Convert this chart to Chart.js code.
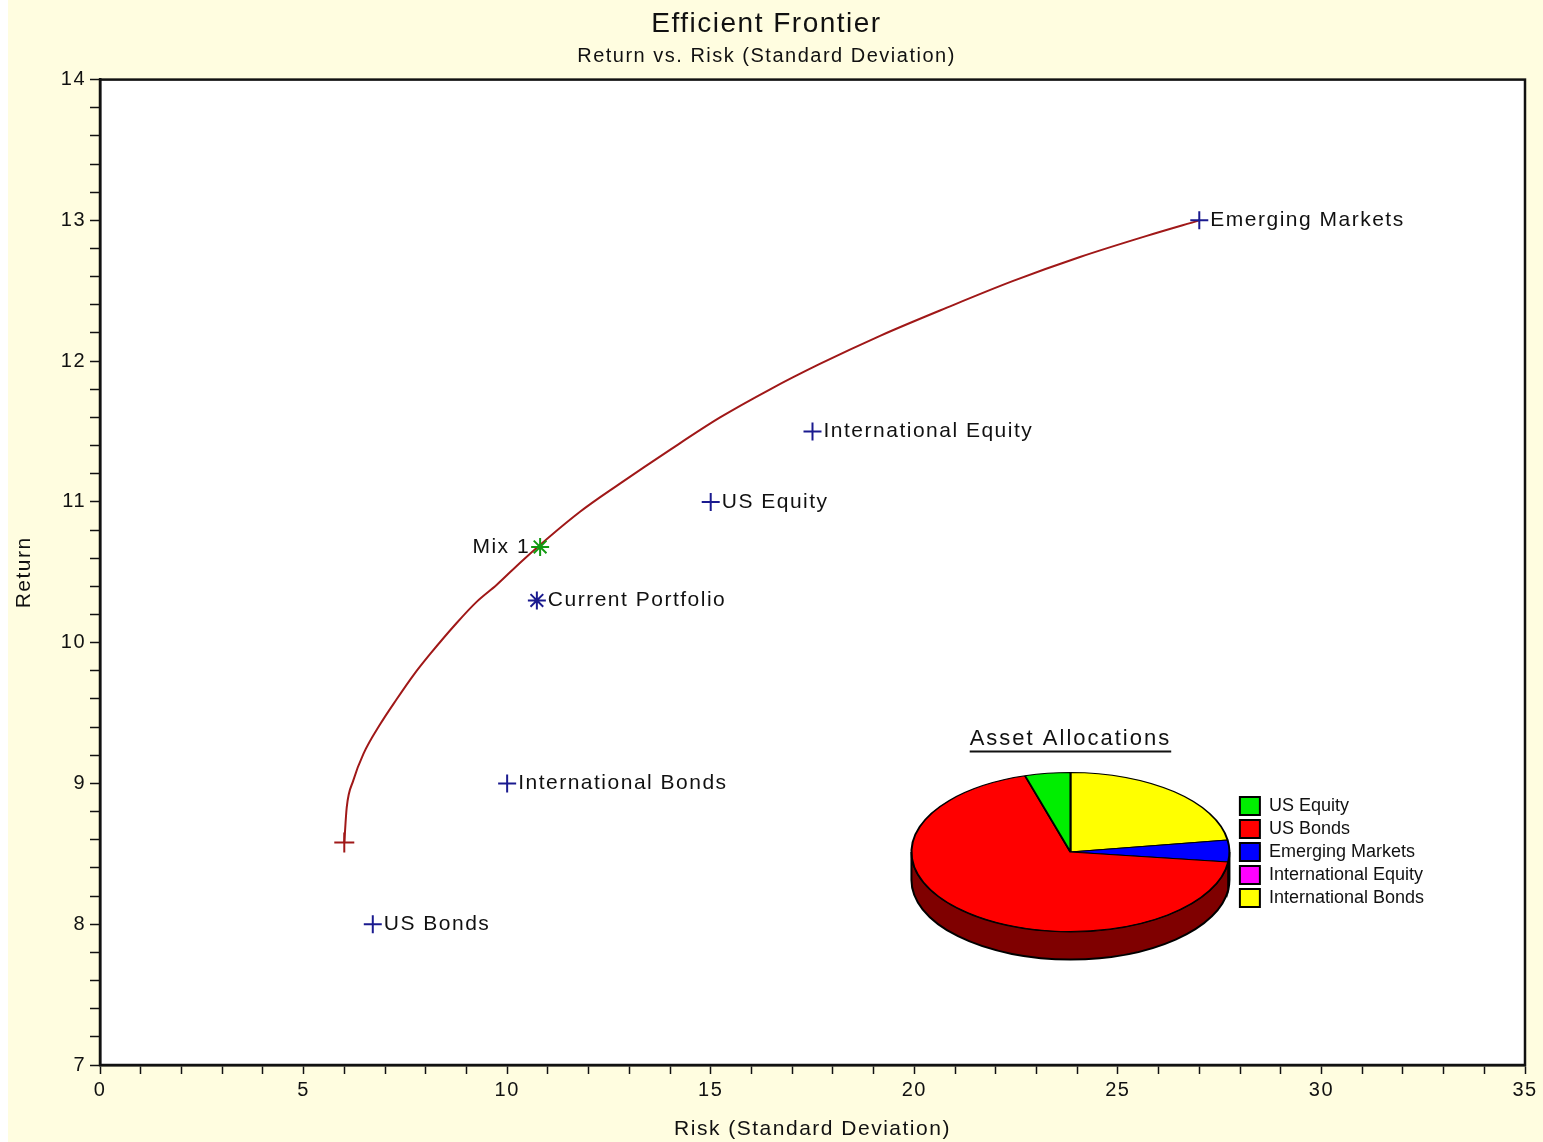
<!DOCTYPE html>
<html>
<head>
<meta charset="utf-8">
<title>Efficient Frontier</title>
<script src="https://cdn.jsdelivr.net/npm/chart.js@4.4.1/dist/chart.umd.min.js"></script>
<style>
  body { margin: 0; background: #fff; }
  #wrap { position: relative; width: 1543px; height: 1142px; }
  #frontier { position: absolute; left: 8px; top: 0; background: #fffde0; }
  #alloc { position: absolute; left: 882px; top: 682px; }
</style>
</head>
<body>
<div id="wrap">
  <canvas id="frontier" width="1535" height="1142"></canvas>
  <canvas id="alloc" width="552" height="340"></canvas>
</div>
<script>
// values
const assetNames = ["US Bonds", "International Bonds", "US Equity", "International Equity", "Emerging Markets"];
const assetRisk = [6.7, 10.0, 15.0, 17.5, 27.0];
const assetReturn = [8.0, 9.0, 11.0, 11.5, 13.0];

const currentRisk = [10.73];
const currentReturn = [10.3];
const mixRisk = [10.81];
const mixReturn = [10.68];

const frontierRisk = [6.0, 6.06, 6.22, 6.47, 6.88, 7.29, 7.70, 8.11, 8.76, 9.25, 9.74, 10.40,
    11.79, 12.77, 14.00, 15.23, 16.46, 17.68, 19.16, 20.80, 22.43, 24.07, 25.71, 27.0];
const frontierReturn = [8.58, 8.83, 9.02, 9.21, 9.42, 9.60, 9.77, 9.92, 10.14, 10.29, 10.41, 10.59,
    10.93, 11.13, 11.37, 11.60, 11.80, 11.98, 12.18, 12.38, 12.57, 12.74, 12.89, 13.0];

const allocLabels = ["US Equity", "US Bonds", "Emerging Markets", "International Equity", "International Bonds"];
const allocPct = [4.6, 68.4, 4.4, 0, 22.6];
const allocColours = ["#00ee00", "#ff0000", "#0000ff", "#ff00ff", "#ffff00"];

const navy = "#1a1a8f";
const FONT = "'Liberation Sans', Arial, sans-serif";
Chart.defaults.font.family = FONT;
Chart.defaults.color = "#111";

const toPoints = (xs, ys) => xs.map((x, i) => ({ x: x, y: ys[i] }));
const isWhole = (v) => Math.abs(v - Math.round(v)) < 1e-6;

// white plot area, frame around it, and letter spacing like the old bitmap font
const plotFrame = {
    id: "plotFrame",
    beforeUpdate(chart) {
        chart.ctx.letterSpacing = "1.5px";
    },
    beforeDraw(chart) {
        const { ctx, chartArea: a } = chart;
        ctx.save();
        ctx.fillStyle = "#fff";
        ctx.fillRect(a.left, a.top, a.right - a.left, a.bottom - a.top);
        ctx.restore();
    },
    afterDatasetsDraw(chart) {
        const { ctx, chartArea: a } = chart;
        ctx.save();
        ctx.strokeStyle = "#111";
        ctx.lineWidth = 2.5;
        ctx.strokeRect(a.left, a.top, a.right - a.left, a.bottom - a.top);
        ctx.restore();
    },
};

// text next to the markers
const pointLabels = {
    id: "pointLabels",
    afterDatasetsDraw(chart) {
        const ctx = chart.ctx;
        ctx.save();
        ctx.font = "21px " + FONT;
        ctx.fillStyle = "#111";
        ctx.textBaseline = "middle";
        chart.data.datasets.forEach((ds, di) => {
            if (!ds.pointNames) return;
            chart.getDatasetMeta(di).data.forEach((pt, i) => {
                if (ds.labelSide === "left") {
                    ctx.textAlign = "right";
                    ctx.fillText(ds.pointNames[i], pt.x - 10, pt.y);
                } else {
                    ctx.textAlign = "left";
                    ctx.fillText(ds.pointNames[i], pt.x + 11, pt.y);
                }
            });
        });
        ctx.restore();
    },
};

new Chart(document.getElementById("frontier"), {
    type: "scatter",
    data: {
        datasets: [
            {
                label: "Assets",
                data: toPoints(assetRisk, assetReturn),
                pointNames: assetNames,
                pointStyle: "cross",
                pointRadius: 9,
                borderColor: navy,
                borderWidth: 2,
            },
            {
                label: "Mix 1",
                data: toPoints(mixRisk, mixReturn),
                pointNames: ["Mix 1"],
                labelSide: "left",
                pointStyle: "star",
                pointRadius: 9,
                borderColor: "#129a12",
                borderWidth: 2,
            },
            {
                label: "Current Portfolio",
                data: toPoints(currentRisk, currentReturn),
                pointNames: ["Current Portfolio"],
                pointStyle: "star",
                pointRadius: 9,
                borderColor: navy,
                borderWidth: 2,
            },
            {
                label: "Efficient Frontier",
                data: toPoints(frontierRisk, frontierReturn),
                showLine: true,
                cubicInterpolationMode: "monotone",
                borderColor: "#a01818",
                borderWidth: 2,
                pointStyle: "cross",
                pointRadius: (c) => (c.dataIndex === 0 ? 10 : 0),
                pointBorderColor: "#a01818",
                pointBorderWidth: 2,
            },
        ],
    },
    options: {
        responsive: false,
        animation: false,
        events: [],
        layout: { padding: { left: 0, right: 18, top: 0, bottom: 0 } },
        plugins: {
            legend: { display: false },
            tooltip: { enabled: false },
            title: {
                display: true,
                text: "Efficient Frontier",
                font: { size: 28, weight: "normal" },
                padding: { top: 7, bottom: 4 },
            },
            subtitle: {
                display: true,
                text: "Return vs. Risk (Standard Deviation)",
                font: { size: 20 },
                padding: { top: 0, bottom: 11 },
            },
        },
        scales: {
            x: {
                type: "linear",
                min: 0,
                max: 35,
                afterFit: (s) => { s.height = 77; },
                ticks: {
                    stepSize: 1,
                    autoSkip: false,
                    maxRotation: 0,
                    padding: 4,
                    font: { size: 20 },
                    callback: (v) => (v % 5 === 0 ? v : ""),
                },
                grid: { drawOnChartArea: false, tickLength: 9, tickColor: "#111", tickWidth: 1.5 },
                border: { color: "#111", width: 2.5 },
                title: {
                    display: true,
                    text: "Risk (Standard Deviation)",
                    font: { size: 21 },
                    padding: { top: 2, bottom: 0 },
                },
            },
            y: {
                min: 7,
                max: 14,
                afterFit: (s) => { s.width = 92; },
                ticks: {
                    stepSize: 0.2,
                    autoSkip: false,
                    padding: 4,
                    font: { size: 20 },
                    callback: (v) => (isWhole(v) ? Math.round(v) : ""),
                },
                grid: { drawOnChartArea: false, tickLength: 10, tickColor: "#111", tickWidth: 1.5 },
                border: { color: "#111", width: 2.5 },
                title: {
                    display: true,
                    text: "Return",
                    font: { size: 21 },
                    padding: { top: 4, bottom: 0 },
                },
            },
        },
    },
    plugins: [plotFrame, pointLabels],
});

// ---- asset allocation pie, tilted with a darker rim ----
const tilt = 0.5;
const depth = 28;

function darken(hex) {
    const n = parseInt(hex.slice(1), 16);
    const r = ((n >> 16) & 255) >> 1, g = ((n >> 8) & 255) >> 1, b = (n & 255) >> 1;
    return `rgb(${r}, ${g}, ${b})`;
}

const pie3d = {
    id: "pie3d",
    beforeDatasetsDraw(chart) {
        const ctx = chart.ctx;
        const arcs = chart.getDatasetMeta(0).data;
        const cx = arcs[0].x, cy = arcs[0].y, r = arcs[0].outerRadius;
        const colours = chart.data.datasets[0].backgroundColor;
        arcs.forEach((arc, i) => {
            const s = Math.max(arc.startAngle, 0);
            const e = Math.min(arc.endAngle, Math.PI);
            if (e <= s) return;
            ctx.beginPath();
            ctx.ellipse(cx, cy, r, r * tilt, 0, s, e);
            ctx.ellipse(cx, cy + depth, r, r * tilt, 0, e, s, true);
            ctx.closePath();
            ctx.fillStyle = darken(colours[i]);
            ctx.fill();
            ctx.strokeStyle = "#000";
            ctx.lineWidth = 2;
            ctx.stroke();
        });
        ctx.save();
        ctx.translate(cx, cy);
        ctx.scale(1, tilt);
        ctx.translate(-cx, -cy);
    },
    afterDatasetsDraw(chart) {
        chart.ctx.restore();
    },
    afterDraw(chart) {
        const ctx = chart.ctx;
        const arc = chart.getDatasetMeta(0).data[0];
        const y = arc.y - arc.outerRadius * tilt - 34;
        ctx.save();
        ctx.letterSpacing = "2px";
        ctx.font = "22px " + FONT;
        ctx.fillStyle = "#111";
        ctx.textAlign = "center";
        ctx.textBaseline = "middle";
        ctx.fillText("Asset Allocations", arc.x, y);
        const w = ctx.measureText("Asset Allocations").width;
        ctx.fillRect(arc.x - w / 2, y + 12, w, 2);
        ctx.restore();
    },
};

// pie runs clockwise, the picture runs counter-clockwise: feed it reversed
const rev = (a) => a.slice().reverse();

new Chart(document.getElementById("alloc"), {
    type: "pie",
    data: {
        labels: rev(allocLabels),
        datasets: [{
            data: rev(allocPct),
            backgroundColor: rev(allocColours),
            borderColor: "#000",
            borderWidth: 2,
            radius: 159,
        }],
    },
    options: {
        responsive: false,
        animation: false,
        events: [],
        layout: { padding: { left: 24 } },
        plugins: {
            tooltip: { enabled: false },
            legend: {
                position: "right",
                reverse: true,
                labels: {
                    boxWidth: 20,
                    boxHeight: 18,
                    padding: 5,
                    color: "#111",
                    font: { size: 18 },
                },
            },
        },
    },
    plugins: [pie3d],
});
</script>
</body>
</html>
